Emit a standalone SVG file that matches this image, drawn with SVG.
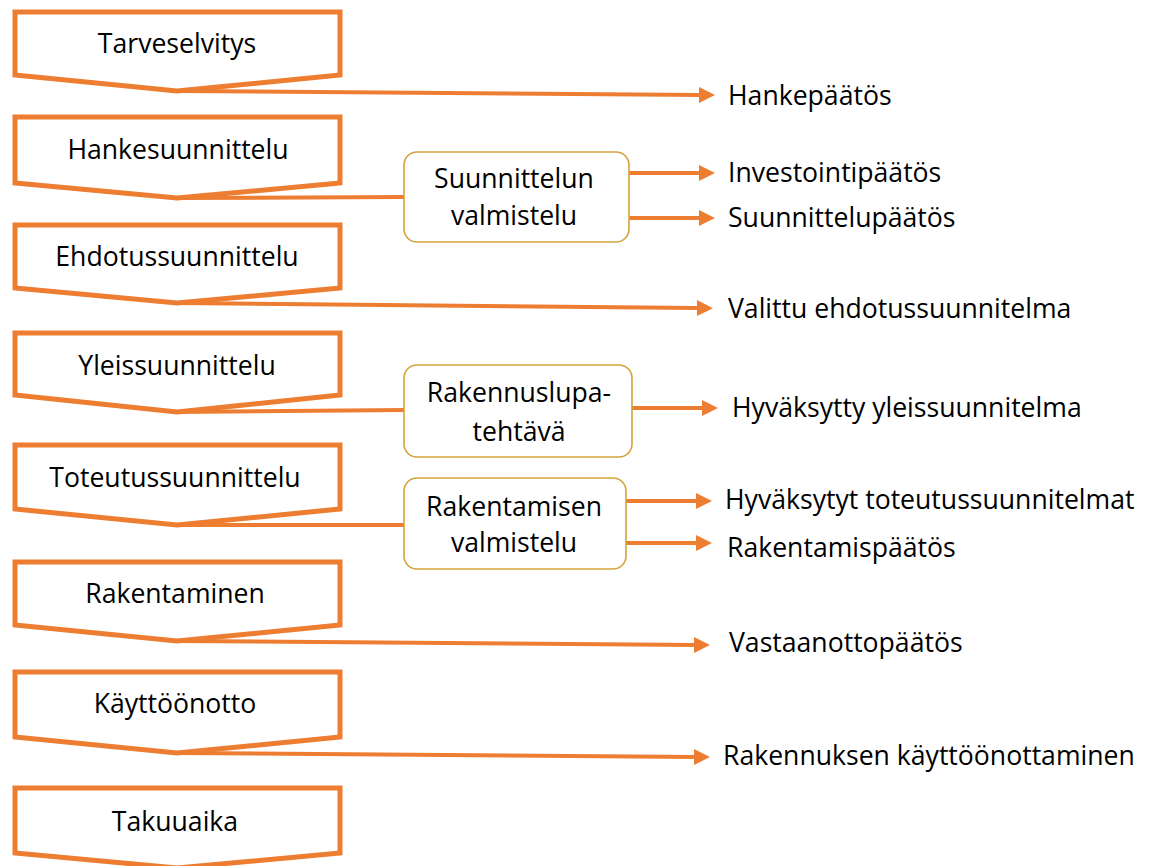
<svg xmlns="http://www.w3.org/2000/svg" width="1153" height="866" viewBox="0 0 1153 866">
<style>
.node{fill:#fff;stroke:#ED7D31;stroke-width:5;stroke-linejoin:miter}
.box{fill:#fff;stroke:#D4A43A;stroke-width:1.6}
.con{fill:none;stroke:#ED7D31;stroke-width:4}
text{font-family:"Open Sans","Liberation Sans",sans-serif;font-size:26.6px;fill:#000}
.c{text-anchor:middle}
</style>
<defs>
<marker id="ah" markerUnits="userSpaceOnUse" viewBox="0 0 16 16" refX="1" refY="8" markerWidth="16" markerHeight="16" orient="auto">
<path d="M0,0 L16,8 L0,16 z" fill="#ED7D31"/>
</marker>
</defs>
<rect width="1153" height="866" fill="#fff"/>
<g id="connectors">
<path class="con" d="M177,91 L700,95" marker-end="url(#ah)"/>
<path class="con" d="M177,198 L404,197"/>
<path class="con" d="M629,173 L700,173" marker-end="url(#ah)"/>
<path class="con" d="M629,218 L700,218" marker-end="url(#ah)"/>
<path class="con" d="M177,303 L698,308" marker-end="url(#ah)"/>
<path class="con" d="M177,412 L404,410"/>
<path class="con" d="M632,408 L703,408" marker-end="url(#ah)"/>
<path class="con" d="M177,525 L404,525"/>
<path class="con" d="M626,501 L697,501" marker-end="url(#ah)"/>
<path class="con" d="M626,543 L697,543" marker-end="url(#ah)"/>
<path class="con" d="M177,641 L695,645" marker-end="url(#ah)"/>
<path class="con" d="M177,753 L695,757" marker-end="url(#ah)"/>
</g>
<g id="n1"><polygon class="node" points="15,12 340,12 340,75 177,91 15,75"/><text class="c" x="177" y="53">Tarveselvitys</text></g>
<g id="n2"><polygon class="node" points="15,117 340,117 340,183 177,198 15,183"/><text class="c" x="178" y="159">Hankesuunnittelu</text></g>
<g id="n3"><polygon class="node" points="15,225 340,225 340,288 177,303 15,288"/><text class="c" x="177" y="266">Ehdotussuunnittelu</text></g>
<g id="n4"><polygon class="node" points="15,333 340,333 340,395 177,412 15,395"/><text class="c" x="177" y="375">Yleissuunnittelu</text></g>
<g id="n5"><polygon class="node" points="15,445 340,445 340,509 177,525 15,509"/><text class="c" x="175" y="487">Toteutussuunnittelu</text></g>
<g id="n6"><polygon class="node" points="15,562 340,562 340,625 177,641 15,625"/><text class="c" x="175" y="603">Rakentaminen</text></g>
<g id="n7"><polygon class="node" points="15,672 340,672 340,737 177,753 15,737"/><text class="c" x="175" y="713">Käyttöönotto</text></g>
<g id="n8"><polygon class="node" points="15,788 340,788 340,853 177,868 15,853"/><text class="c" x="175" y="831">Takuuaika</text></g>
<g id="b1"><rect class="box" x="404" y="152" width="225" height="90" rx="13"/><text class="c" x="514" y="188">Suunnittelun</text><text class="c" x="514" y="225">valmistelu</text></g>
<g id="b2"><rect class="box" x="404" y="365" width="228" height="92" rx="13"/><text class="c" x="519" y="402">Rakennuslupa-</text><text class="c" x="519" y="441">tehtävä</text></g>
<g id="b3"><rect class="box" x="404" y="478" width="222" height="91" rx="13"/><text class="c" x="514" y="516">Rakentamisen</text><text class="c" x="514" y="552">valmistelu</text></g>
<g id="outputs">
<text x="728" y="105">Hankepäätös</text>
<text x="728" y="182">Investointipäätös</text>
<text x="728" y="227">Suunnittelupäätös</text>
<text x="728" y="318">Valittu ehdotussuunnitelma</text>
<text x="732" y="417">Hyväksytty yleissuunnitelma</text>
<text x="725" y="509">Hyväksytyt toteutussuunnitelmat</text>
<text x="727" y="557">Rakentamispäätös</text>
<text x="729" y="652">Vastaanottopäätös</text>
<text x="723" y="765">Rakennuksen käyttöönottaminen</text>
</g>
</svg>
